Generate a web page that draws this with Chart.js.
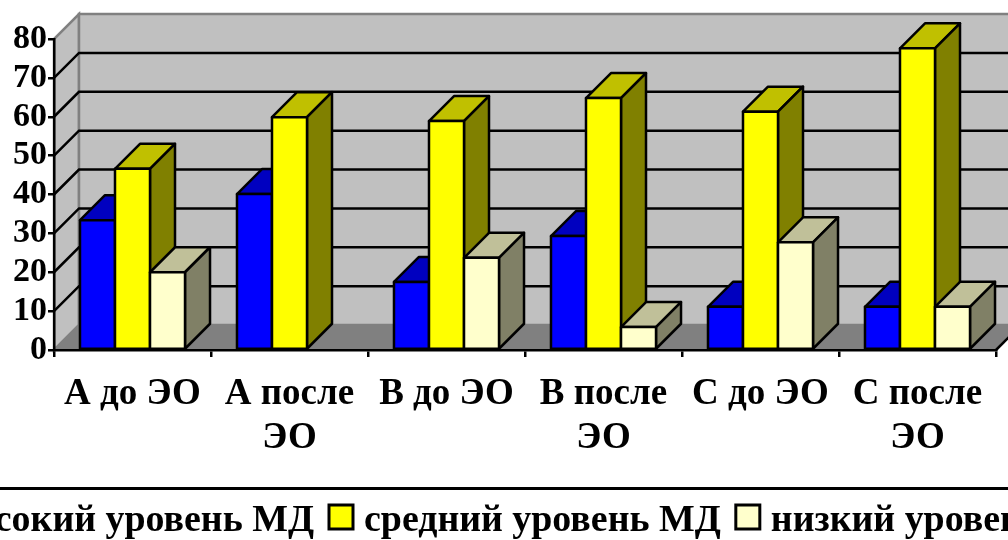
<!DOCTYPE html>
<html lang="ru">
<head>
  <meta charset="UTF-8">
  <title>Уровень МД</title>
  <script src="https://cdn.jsdelivr.net/npm/chart.js"></script>
  <style>
    html, body { margin: 0; padding: 0; background: #fff; overflow: hidden; }
    canvas { display: block; }
  </style>
</head>
<body>
  <canvas id="myChart" width="1008" height="540"></canvas>
  <script>
    const categories = [
      'А до ЭО', ['А после', 'ЭО'],
      'В до ЭО', ['В после', 'ЭО'],
      'С до ЭО', ['С после', 'ЭО']
    ];
    const highLevel = [33.4, 40.1, 17.5, 29.3, 11.1, 11.1];
    const midLevel = [46.6, 59.9, 58.9, 64.8, 61.3, 77.6];
    const lowLevel = [20, null, 23.7, 5.9, 27.7, 11.1];
    const seriesNames = ['высокий уровень МД', 'средний уровень МД', 'низкий уровень МД'];

    const frontColors = ['#0000ff', '#ffff00', '#ffffcc'];
    const topColors = ['#0000c0', '#c0c000', '#c0c099'];
    const sideColors = ['#000080', '#808000', '#808066'];

    const DEPTH = 25; // сдвиг задней стенки, px

    // Стенки и пол рисуем до осей
    const walls = {
      id: 'walls',
      beforeDraw(chart) {
        const { ctx, chartArea: a, scales: { y } } = chart;
        ctx.save();
        ctx.lineWidth = 2.5;
        ctx.strokeStyle = '#808080';
        ctx.lineJoin = 'miter';

        ctx.fillStyle = '#c0c0c0';
        ctx.beginPath();
        ctx.moveTo(a.left, a.bottom);
        ctx.lineTo(a.left + DEPTH, a.bottom - DEPTH);
        ctx.lineTo(a.left + DEPTH, a.top - DEPTH);
        ctx.lineTo(a.left, a.top);
        ctx.closePath();
        ctx.fill();
        ctx.stroke();

        ctx.fillRect(a.left + DEPTH, a.top - DEPTH, a.width, a.height);
        ctx.strokeRect(a.left + DEPTH, a.top - DEPTH, a.width, a.height);

        ctx.fillStyle = '#808080';
        ctx.beginPath();
        ctx.moveTo(a.left, a.bottom);
        ctx.lineTo(a.left + DEPTH, a.bottom - DEPTH);
        ctx.lineTo(a.right + DEPTH, a.bottom - DEPTH);
        ctx.lineTo(a.right, a.bottom);
        ctx.closePath();
        ctx.fill();

        // линии сетки: диагональ на боковой стенке и горизонталь на задней
        ctx.strokeStyle = '#000';
        y.ticks.forEach((t) => {
          if (t.value === 0 || t.value === 80) return;
          const py = y.getPixelForValue(t.value);
          ctx.beginPath();
          ctx.moveTo(a.left, py);
          ctx.lineTo(a.left + DEPTH, py - DEPTH);
          ctx.lineTo(a.right + DEPTH, py - DEPTH);
          ctx.stroke();
        });

        ctx.beginPath();
        ctx.moveTo(a.right, a.bottom);
        ctx.lineTo(a.right + DEPTH, a.bottom - DEPTH);
        ctx.stroke();
        ctx.restore();
      }
    };

    function face(ctx, points, color) {
      ctx.fillStyle = color;
      ctx.beginPath();
      points.forEach(([px, py], i) => (i ? ctx.lineTo(px, py) : ctx.moveTo(px, py)));
      ctx.closePath();
      ctx.fill();
      ctx.stroke();
    }

    // Столбики идут слева направо, чтобы каждый перекрывал бок соседа
    const bars3d = {
      id: 'bars3d',
      beforeDatasetsDraw(chart) {
        const ctx = chart.ctx;
        ctx.save();
        ctx.lineWidth = 2.5;
        ctx.strokeStyle = '#000';
        ctx.lineJoin = 'round';
        categories.forEach((c, i) => {
          chart.data.datasets.forEach((ds, s) => {
            if (ds.data[i] == null) return;
            const { x, y, base, width } = chart.getDatasetMeta(s).data[i].getProps(['x', 'y', 'base', 'width']);
            const l = x - width / 2, r = x + width / 2;
            face(ctx, [[l, y], [l + DEPTH, y - DEPTH], [r + DEPTH, y - DEPTH], [r, y]], topColors[s]);
            face(ctx, [[r, y], [r + DEPTH, y - DEPTH], [r + DEPTH, base - DEPTH], [r, base]], sideColors[s]);
            face(ctx, [[l, y], [r, y], [r, base], [l, base]], frontColors[s]);
          });
        });
        ctx.restore();
        return false;
      }
    };

    // Легенда шире холста, края обрезаются рамкой
    const legendBar = {
      id: 'legendBar',
      afterDraw(chart) {
        const ctx = chart.ctx;
        ctx.save();
        ctx.fillStyle = '#000';
        ctx.fillRect(0, 487, chart.width, 3);
        ctx.font = 'bold 37.9px "Liberation Serif"';
        ctx.textBaseline = 'alphabetic';
        ctx.textAlign = 'left';
        const widths = seriesNames.map((n) => ctx.measureText(n).width);
        let x = 364 - widths[0] - 50;
        seriesNames.forEach((name, s) => {
          if (s > 0) {
            ctx.lineWidth = 3;
            ctx.strokeStyle = '#000';
            ctx.fillStyle = frontColors[s];
            ctx.fillRect(x - 35, 505, 24, 24);
            ctx.strokeRect(x - 35, 505, 24, 24);
          }
          ctx.fillStyle = '#000';
          ctx.fillText(name, x, 531);
          x += widths[s] + 50;
        });
        ctx.restore();
      }
    };

    const ctx = document.getElementById('myChart').getContext('2d');
    const tickFont = { family: '"Liberation Serif"', size: 37, weight: 'bold', lineHeight: 1.18 };
    const myChart = new Chart(ctx, {
      type: 'bar',
      data: {
        labels: categories,
        datasets: [
          { label: seriesNames[0], data: highLevel, backgroundColor: frontColors[0] },
          { label: seriesNames[1], data: midLevel, backgroundColor: frontColors[1] },
          { label: seriesNames[2], data: lowLevel, backgroundColor: frontColors[2] }
        ]
      },
      plugins: [walls, bars3d, legendBar],
      options: {
        responsive: false,
        animation: false,
        categoryPercentage: 0.669,
        barPercentage: 1,
        layout: { padding: { top: 39, right: 12, bottom: 0, left: 0 } },
        plugins: { legend: { display: false }, tooltip: { enabled: false } },
        scales: {
          x: {
            afterFit: (s) => { s.height = 190; },
            border: { color: '#000', width: 2.5 },
            grid: { drawOnChartArea: false, color: '#000', lineWidth: 2.5, tickLength: 7 },
            ticks: { color: '#000', font: tickFont, maxRotation: 0, autoSkip: false, padding: 16 }
          },
          y: {
            min: 0,
            max: 80,
            afterFit: (s) => { s.width = 54; },
            border: { color: '#000', width: 2.5 },
            grid: { drawOnChartArea: false, color: '#000', lineWidth: 2.5, tickLength: 6 },
            ticks: { color: '#000', font: { ...tickFont, size: 34, lineHeight: 1 }, stepSize: 10, padding: 1 }
          }
        }
      }
    });
  </script>
</body>
</html>
